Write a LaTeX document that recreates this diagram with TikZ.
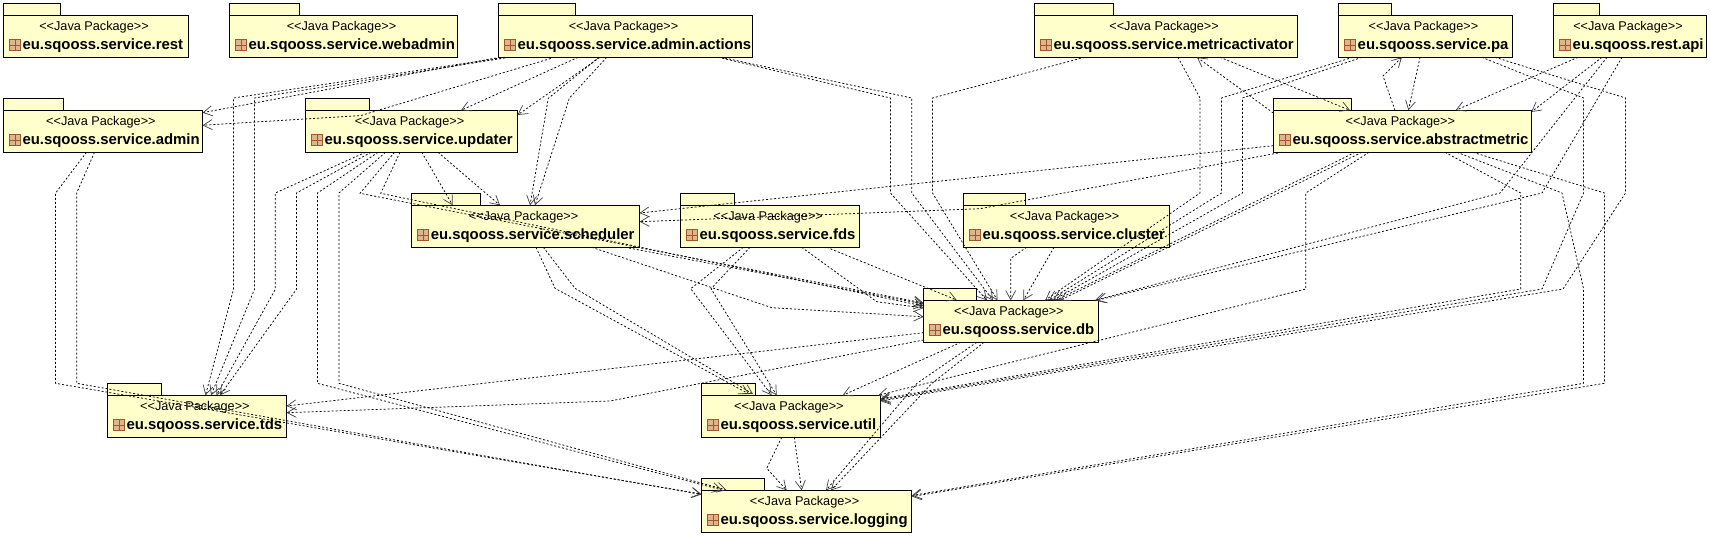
\documentclass[tikz,border=0pt]{standalone}
\usepackage{fontspec}
\newfontfamily\umlfont{Liberation Sans}
\usetikzlibrary{arrows.meta}
\definecolor{pkgfill}{HTML}{FFFFCC}
\definecolor{icfill}{HTML}{DDB690}
\definecolor{icline}{HTML}{A4552B}
\tikzset{
  pkgbody/.style={draw=black,fill=pkgfill,line width=0.9pt,inner sep=0pt,outer sep=0pt,minimum height=42pt,anchor=north west},
  pkgtab/.style={draw=black,fill=pkgfill,line width=0.9pt,inner sep=0pt,outer sep=0pt,minimum height=13pt,anchor=north west},
  pkgstereo/.style={inner sep=0pt,font=\umlfont\fontsize{12.7}{14}\selectfont},
  pkgname/.style={inner sep=0pt,anchor=west,font=\umlfont\bfseries\fontsize{14.9}{16}\selectfont},
  pkgicon/.style={draw=icline,fill=icfill,line width=0.7pt,inner sep=0pt,minimum size=11pt,
    path picture={\draw[icline,line width=0.6pt]
      (path picture bounding box.west)--(path picture bounding box.east)
      (path picture bounding box.north)--(path picture bounding box.south);}},
  dep/.style={draw=black,line width=0.75pt,dash pattern=on 2pt off 2pt,
    -{Straight Barb[length=9pt,width=10pt,line width=0.7pt,color=black!75]}}
}
\newcommand\pkg[6]{%
  \node[pkgtab,minimum width={#3-#2}] (#1-tab) at (#2,#5) {};
  \node[pkgbody,minimum width={#4-#2}] (#1) at (#2,{#5+12}) {};
  \node[pkgstereo] (#1-st) at ([xshift=-2pt,yshift=-11.5pt]#1.north) {<{}<Java Package>{}>};
  \node[pkgicon] (#1-ic) at ([xshift=11.5pt,yshift=-30pt]#1.north west) {};
  \node[pkgname] (#1-nm) at ([xshift=19pt,yshift=-30.5pt]#1.north west) {#6};
}
\begin{document}
\begin{tikzpicture}[x=1pt,y=-1pt]
\useasboundingbox (0,0) rectangle (1710,536);
\fill[white] (0,0) rectangle (1710,536);
% packages
\pkg{rest}{3.3}{60}{188.7}{3.3}{eu.sqooss.service.rest}
\pkg{webadmin}{229.5}{299}{457.5}{3.3}{eu.sqooss.service.webadmin}
\pkg{actions}{498.5}{575.8}{752.5}{3.3}{eu.sqooss.service.admin.actions}
\pkg{metric}{1034.4}{1113.6}{1297.8}{3.3}{eu.sqooss.service.metricactivator}
\pkg{pa}{1338.5}{1391.6}{1512.4}{3.3}{eu.sqooss.service.pa}
\pkg{api}{1553.5}{1599.6}{1706.5}{3.3}{eu.sqooss.rest.api}
\pkg{admin}{3.3}{63.6}{202.5}{98.3}{eu.sqooss.service.admin}
\pkg{updater}{305.5}{369.8}{517.5}{98.3}{eu.sqooss.service.updater}
\pkg{abs}{1273.3}{1351.3}{1531.3}{98.3}{eu.sqooss.service.abstractmetric}
\pkg{sched}{411.6}{480.7}{639.5}{193.3}{eu.sqooss.service.scheduler}
\pkg{fds}{680.5}{734.7}{859.8}{193.3}{eu.sqooss.service.fds}
\pkg{cluster}{963.5}{1025.6}{1169.8}{193.3}{eu.sqooss.service.cluster}
\pkg{db}{923.5}{976.5}{1098.4}{288.3}{eu.sqooss.service.db}
\pkg{tds}{107.3}{161.5}{286.5}{383.3}{eu.sqooss.service.tds}
\pkg{util}{701.3}{755.5}{880.5}{383.3}{eu.sqooss.service.util}
\pkg{logging}{701.3}{764.5}{911.8}{478.3}{eu.sqooss.service.logging}
% admin.actions
\draw[dep] (500,0 |- actions.south) -- (admin.east |- 0,112.7);
\draw[dep] (554.5,0 |- actions.south) -- (361,115.5) -- (admin.east |- 0,125.3);
\draw[dep] (505,0 |- actions.south) -- (233.5,98) -- (233.5,289.3) -- (205.5,0 |- tds.north);
\draw[dep] (509,0 |- actions.south) -- (254.5,98) -- (254.5,289.3) -- (211,0 |- tds.north);
\draw[dep] (578,0 |- actions.south) -- (461,0 |- updater.north);
\draw[dep] (600,0 |- actions.south) -- (updater.east |- 0,115);
\draw[dep] (599,0 |- actions.south) -- (548.3,98.3) -- (530,0 |- sched.north);
\draw[dep] (606.7,0 |- actions.south) -- (569.3,98.3) -- (535,0 |- sched.north);
\draw[dep] (718.4,0 |- actions.south) -- (890.4,98) -- (890.4,193) -- (987,0 |- db.north);
\draw[dep] (721,0 |- actions.south) -- (911.8,98) -- (911.8,193) -- (993,0 |- db.north);
% metricactivator
\draw[dep] (1084.5,0 |- metric.south) -- (932.5,98) -- (932.5,193) -- (997.5,0 |- db.north);
\draw[dep] (1178,0 |- metric.south) -- (1200,98) -- (1200,193) -- (1045,0 |- db.north);
\draw[dep] (1220,0 |- metric.south) -- (1350,0 |- abs.north);
% pa
\draw[dep] (1352.7,0 |- pa.south) -- (1221.5,98) -- (1221.5,193) -- (1049,0 |- db.north);
\draw[dep] (1361.8,0 |- pa.south) -- (1242.5,98) -- (1242.5,193) -- (1053,0 |- db.north);
\draw[dep] (1420,0 |- pa.south) -- (1408.4,0 |- abs.north);
\draw[dep] (1481.8,0 |- pa.south) -- (1583.6,98) -- (1583.6,193) -- (1542,289) -- (util.east |- 0,400);
\draw[dep] (1495,0 |- pa.south) -- (1625.5,98) -- (1625.5,193) -- (1563,289) -- (util.east |- 0,401);
% rest.api
\draw[dep] (1578,0 |- api.south) -- (1455.6,0 |- abs.north);
\draw[dep] (1602,0 |- api.south) -- (abs.east |- 0,112);
\draw[dep] (1607,0 |- api.south) -- (1500,193) -- (1095,0 |- db.north);
\draw[dep] (1622,0 |- api.south) -- (1542,193) -- (1097,0 |- db.north);
% abstractmetric
\draw[dep] (1395,0 |- abs.north) -- (1383,76) -- (1401.8,0 |- pa.south);
\draw[dep] (abs.west |- 0,113) -- (1197,0 |- metric.south);
\draw[dep] (abs.west |- 0,145.7) -- (sched.east |- 0,213);
\draw[dep] (1281.7,0 |- abs.south) -- (980,208.7) -- (sched.east |- 0,221.7);
\draw[dep] (1355,0 |- abs.south) -- (1056,0 |- db.north);
\draw[dep] (1361.7,0 |- abs.south) -- (1060,0 |- db.north);
\draw[dep] (1369,0 |- abs.south) -- (1305.8,193) -- (1305.8,289) -- (878.3,0 |- util.north);
\draw[dep] (1445,0 |- abs.south) -- (1520.7,193) -- (1520.7,289) -- (util.east |- 0,399);
\draw[dep] (1457,0 |- abs.south) -- (1562,193) -- (1583.6,289) -- (1583.6,383.3) -- (logging.east |- 0,495.5);
\draw[dep] (1473,0 |- abs.south) -- (1604.4,193) -- (1604.4,383.3) -- (logging.east |- 0,496.5);
% admin
\draw[dep] (86.5,0 |- admin.south) -- (55.6,193) -- (55.6,383.3) -- (logging.west |- 0,494);
\draw[dep] (94.5,0 |- admin.south) -- (76.7,193) -- (76.7,383.3) -- (logging.west |- 0,494.5);
% updater
\draw[dep] (365.5,0 |- updater.south) -- (275.3,193) -- (275.3,289.3) -- (216.4,0 |- tds.north);
\draw[dep] (371,0 |- updater.south) -- (296.4,193) -- (296.4,289.3) -- (220,0 |- tds.north);
\draw[dep] (378,0 |- updater.south) -- (317.5,193) -- (317.5,383.3) -- (722,490);
\draw[dep] (385.5,0 |- updater.south) -- (338.9,193) -- (338.9,383.3) -- (726.5,490);
\draw[dep] (394.5,0 |- updater.south) -- (360,193.3) -- (db.west |- 0,303);
\draw[dep] (400,0 |- updater.south) -- (380.7,193.3) -- (db.west |- 0,306);
\draw[dep] (421.8,0 |- updater.south) -- (452.7,0 |- sched.north);
\draw[dep] (438,0 |- updater.south) -- (500,0 |- sched.north);
% scheduler
\draw[dep] (536,0 |- sched.south) -- (555,288.3) -- (749,394);
\draw[dep] (543.3,0 |- sched.south) -- (575,288.3) -- (753,394);
\draw[dep] (591.7,0 |- sched.south) -- (771.8,307.7) -- (db.west |- 0,316.7);
\draw[dep] (625,0 |- sched.south) -- (db.west |- 0,304);
% fds
\draw[dep] (743.3,0 |- fds.south) -- (690.7,288.7) -- (771.7,0 |- util.north);
\draw[dep] (750,0 |- fds.south) -- (711,288.7) -- (776.7,0 |- util.north);
\draw[dep] (801.7,0 |- fds.south) -- (876.7,301.7) -- (db.west |- 0,308);
\draw[dep] (826.7,0 |- fds.south) -- (956.7,300);
% cluster
\draw[dep] (1026.7,0 |- cluster.south) -- (1010.7,258.3) -- (1010.7,0 |- db.north);
\draw[dep] (1054,0 |- cluster.south) -- (1023.3,0 |- db.north);
% db
\draw[dep] (db.west |- 0,332.7) -- (tds.east |- 0,406);
\draw[dep] (db.west |- 0,340) -- (610,401) -- (tds.east |- 0,412.7);
\draw[dep] (960.9,0 |- db.south) -- (842.7,0 |- util.north);
\draw[dep] (976.7,0 |- db.south) -- (917,383.3) -- (826,0 |- logging.north);
\draw[dep] (984,0 |- db.south) -- (932,383.3) -- (831,0 |- logging.north);
% util
\draw[dep] (781.7,0 |- util.south) -- (766.7,468.3) -- (786.7,0 |- logging.north);
\draw[dep] (794.3,0 |- util.south) -- (801.7,0 |- logging.north);
\end{tikzpicture}
\end{document}
